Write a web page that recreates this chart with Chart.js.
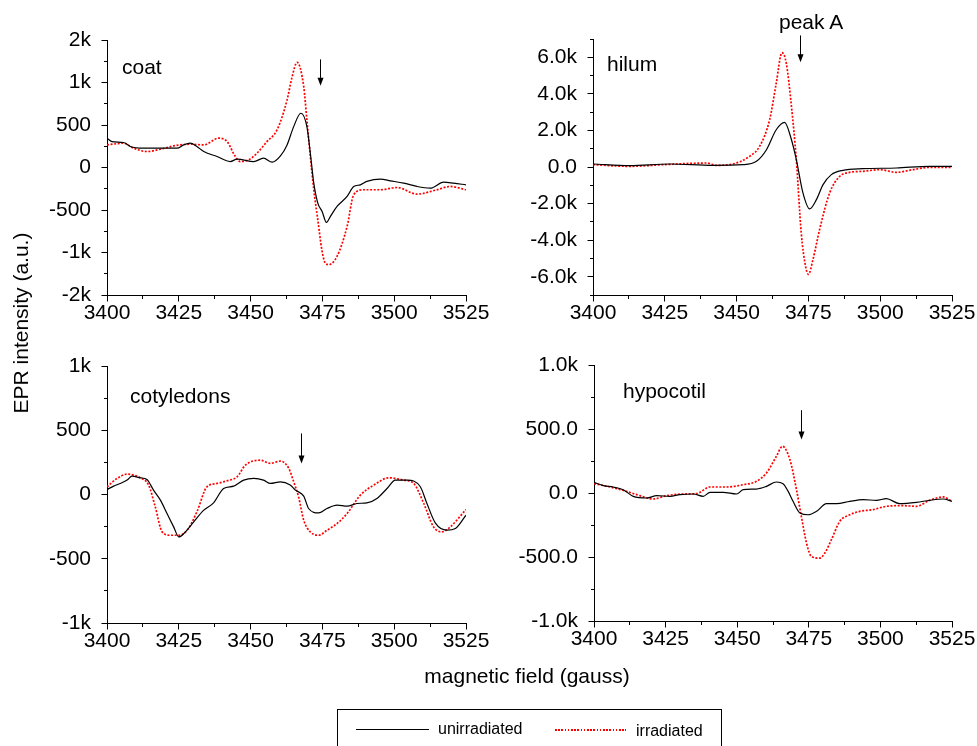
<!DOCTYPE html>
<html><head><meta charset="utf-8">
<script src="https://cdn.jsdelivr.net/npm/chart.js@4.4.1/dist/chart.umd.min.js"></script>
<style>
html,body{margin:0;padding:0;background:#fff;width:977px;height:746px;overflow:hidden;position:relative;font-family:"Liberation Sans",Arial,sans-serif;color:#000;}
canvas{position:absolute;left:0;top:0;}
.lbl{position:absolute;font-size:21px;line-height:24px;white-space:nowrap;}
.ytitle{position:absolute;width:300px;height:24px;font-size:21px;line-height:24px;text-align:center;white-space:nowrap;transform:rotate(-90deg);}
.legend{position:absolute;left:337px;top:709px;width:385px;height:60px;border:1px solid #000;box-sizing:border-box;}
.lg{position:absolute;font-size:16px;line-height:18px;white-space:nowrap;}
</style></head><body>
<canvas id="cCoat" width="977" height="746"></canvas>
<canvas id="cHilum" width="977" height="746"></canvas>
<canvas id="cCoty" width="977" height="746"></canvas>
<canvas id="cHypo" width="977" height="746"></canvas>

<div class="lbl" style="left:122px;top:55px;">coat</div>
<div class="lbl" style="left:607px;top:52px;">hilum</div>
<div class="lbl" style="left:779px;top:10px;">peak A</div>
<div class="lbl" style="left:130px;top:384px;">cotyledons</div>
<div class="lbl" style="left:623px;top:379px;">hypocotil</div>
<div class="ytitle" style="left:-129px;top:311px;">EPR intensity (a.u.)</div>
<div class="lbl" style="left:0;width:1054px;text-align:center;top:664px;">magnetic field (gauss)</div>
<div class="legend"></div>
<div style="position:absolute;left:356px;top:728.5px;width:73px;height:1.3px;background:#000;"></div>
<div class="lg" style="left:438px;top:720px;">unirradiated</div>
<div style="position:absolute;left:555px;top:729px;width:71px;height:1.6px;background:repeating-linear-gradient(90deg,#f00 0 1.6px,transparent 1.6px 3.2px);"></div>
<div class="lg" style="left:636px;top:722px;">irradiated</div>

<script>
// ---------- data ----------
const xTicks = [3400, 3425, 3450, 3475, 3500, 3525];

const coatUnirrX = [3400,3401.7,3405.8,3408.1,3412.8,3417.4,3424.4,3426.7,3429.0,3431.3,3433.7,3438.3,3442.9,3445.3,3451.1,3454.5,3457.5,3460.4,3462.7,3465.0,3467.5,3469.6,3470.8,3472.0,3473.4,3474.9,3476.4,3477.8,3480.1,3483.6,3485.9,3488.2,3490.5,3495.2,3498.7,3503.3,3507.9,3512.6,3517.2,3520.7,3525];
const coatUnirrY = [345,305,294,247,227,227,227,266,286,247,188,129,70,98,70,110,63,137,266,481,638,481,168,-184,-419,-517,-646,-575,-458,-341,-223,-204,-164,-137,-157,-184,-223,-243,-172,-184,-204];
const coatIrrX = [3400,3405.8,3409.3,3413.9,3418.6,3423.2,3429.0,3433.7,3438.9,3441.8,3444.7,3446.4,3449.3,3452.2,3455.7,3459.2,3462.7,3464.4,3466.2,3468.5,3469.6,3470.8,3472.0,3473.4,3474.8,3476.0,3477.2,3480.1,3483.6,3485.9,3489.4,3495.2,3501.0,3507.9,3514.9,3519.5,3525];
const coatIrrY = [266,286,227,188,215,254,274,266,345,305,129,70,90,168,305,442,795,1060,1237,951,560,129,-262,-615,-967,-1124,-1143,-1045,-693,-321,-262,-262,-235,-313,-262,-223,-262];

const hilumUnirrX = [3400,3412.8,3426.7,3441.8,3452.2,3456.9,3460.4,3463.8,3466.7,3469.1,3470.8,3473.1,3475.4,3477.8,3480.1,3483.0,3487.0,3494.0,3505.6,3517.2,3525];
const hilumUnirrY = [164,73,164,91,127,309,945,2036,2436,1491,400,-1418,-2291,-1782,-964,-418,-182,-91,-55,36,36];
const hilumIrrX = [3400,3412.8,3424.4,3439.5,3442.9,3448.7,3454.5,3458.0,3461.5,3463.8,3465.8,3467.3,3469.1,3470.8,3472.5,3474.0,3475.0,3476.6,3478.9,3482.4,3485.9,3489.4,3494.0,3499.8,3505.6,3511.4,3517.2,3525];
const hilumIrrY = [127,36,127,218,91,164,582,1127,2582,4582,6254,5672,3309,400,-3600,-5418,-5872,-5054,-3418,-1418,-509,-291,-236,-145,-291,-145,-18,-18];

const cotyUnirrX = [3400,3402.3,3404.6,3407.0,3408.7,3411.6,3413.9,3416.2,3418.6,3420.9,3423.2,3425.0,3427.3,3430.2,3433.7,3437.1,3440.6,3444.1,3447.6,3451.1,3454.5,3456.9,3460.4,3463.8,3465.6,3468.5,3470.2,3473.7,3476.6,3480.1,3483.6,3487.0,3490.5,3494.0,3497.5,3500.4,3504.5,3509.1,3511.4,3514.3,3518.4,3521.3,3525];
const cotyUnirrY = [39,65,86,112,143,130,117,34,-44,-148,-252,-330,-291,-213,-122,-65,47,65,112,125,112,86,99,73,34,-13,-109,-143,-109,-83,-91,-70,-65,-31,47,112,112,60,-70,-221,-278,-265,-161];
const cotyIrrX = [3400,3403.5,3407.0,3411.6,3414.5,3416.8,3419.2,3422.1,3425.0,3427.9,3431.3,3434.8,3438.3,3441.8,3445.3,3448.2,3453.4,3456.9,3460.4,3463.3,3465.0,3466.7,3468.5,3470.8,3473.7,3476.6,3480.1,3483.6,3488.2,3492.9,3498.1,3503.3,3506.8,3510.3,3513.7,3516.6,3519.5,3525];
const cotyIrrY = [60,125,158,130,73,-96,-291,-317,-317,-278,-135,60,86,107,138,229,267,242,260,203,99,-18,-200,-291,-317,-278,-226,-148,-5,73,130,112,86,-70,-252,-291,-252,-117];

const hypoUnirrX = [3400,3403.3,3406.7,3410.2,3413.7,3418.4,3421.9,3426.5,3430.0,3434.7,3438.1,3440.5,3445.1,3449.8,3452.1,3456.7,3460.2,3463.7,3466.0,3467.8,3469.5,3471.9,3474.8,3477.7,3481.2,3484.7,3489.3,3494.0,3498.6,3502.1,3506.7,3512.6,3517.2,3521.9,3525];
const hypoUnirrY = [83,57,47,26,-26,-39,-21,-26,-13,-8,-26,5,5,-8,26,31,52,86,73,13,-65,-156,-170,-143,-83,-83,-65,-52,-57,-44,-83,-73,-57,-47,-65];
const hypoIrrX = [3400,3405.6,3411.4,3416.0,3420.7,3425.3,3431.2,3435.8,3440.5,3446.3,3452.1,3456.7,3460.2,3463.7,3465.8,3468.4,3470.7,3472.4,3474.2,3475.9,3478.8,3480.6,3482.9,3485.8,3489.3,3492.8,3497.4,3502.1,3507.9,3512.6,3517.2,3521.9,3525];
const hypoIrrY = [73,47,13,-21,-47,-21,-8,-5,47,47,65,91,156,287,365,261,26,-183,-391,-495,-509,-469,-365,-222,-170,-143,-130,-104,-99,-104,-57,-31,-65];

// arrow annotations: [x, yTop, yTip] in data units
const coatArrow = [3474.3, 1272, 962];
const hilumArrow = [3472.3, 7195, 5732];
const cotyArrow = [3467.7, 475, 241];
const hypoArrow = [3472.4, 647, 417];

// ---------- formatters ----------
function fmtK0(v){ if (Math.abs(v) >= 1000) { return (v<0?'-':'') + Math.round(Math.abs(v)/1000) + 'k'; } return String(v); }
function fmtK1(v){ if (v === 0) return '0.0'; return (v/1000).toFixed(1) + 'k'; }
function fmtHypo(v){ if (Math.abs(v) >= 1000) return (v/1000).toFixed(1) + 'k'; return v.toFixed(1); }

const W = 977, H = 746, YW = 90, XH = 40;

const tickPlugin = {
  id: 'customTicks',
  afterDraw(chart) {
    const o = chart.options.plugins.customTicks;
    const ctx = chart.ctx, xs = chart.scales.x, ys = chart.scales.y, ca = chart.chartArea;
    ctx.save();
    ctx.strokeStyle = '#000'; ctx.fillStyle = '#000'; ctx.lineWidth = 1;
    const left = Math.round(ca.left - 0.5) + 0.5;
    const bottom = Math.round(ca.bottom - 0.5) + 0.5;
    ctx.beginPath();
    const n = Math.round((o.yMax - o.yMin) / o.yMinor);
    for (let i = 0; i <= n; i++) {
      const v = o.yMin + i * o.yMinor;
      const r = v / o.yMajor;
      const major = Math.abs(r - Math.round(r)) < 1e-6;
      const len = major ? 6 : 3.5;
      const py = Math.round(ys.getPixelForValue(v) - 0.5) + 0.5;
      ctx.moveTo(left - len, py); ctx.lineTo(left, py);
    }
    const nx = Math.round((3525 - 3400) / 12.5);
    for (let i = 0; i <= nx; i++) {
      const v = 3400 + i * 12.5;
      const len = (i % 2 === 0) ? 6 : 3.5;
      const px = Math.round(xs.getPixelForValue(v) - 0.5) + 0.5;
      ctx.moveTo(px, bottom); ctx.lineTo(px, bottom + len);
    }
    ctx.stroke();
    // arrow
    const a = o.arrow;
    const ax = Math.round(xs.getPixelForValue(a[0]) - 0.5) + 0.5;
    const y1 = ys.getPixelForValue(a[1]);
    const y2 = ys.getPixelForValue(a[2]);
    ctx.beginPath(); ctx.moveTo(ax, y1); ctx.lineTo(ax, y2 - 6); ctx.stroke();
    ctx.beginPath(); ctx.moveTo(ax - 3, y2 - 8); ctx.lineTo(ax + 3, y2 - 8); ctx.lineTo(ax, y2); ctx.closePath(); ctx.fill();
    ctx.restore();
  }
};

function pts(X, Y){ return X.map((x, i) => ({x: x, y: Y[i]})); }

function makePanel(id, area, yMin, yMax, yMajor, yMinor, majorVals, fmt, unX, unY, irX, irY, arrow) {
  new Chart(document.getElementById(id), {
    type: 'line',
    data: {
      datasets: [
        { label: 'unirradiated', data: pts(unX, unY), borderColor: '#000', borderWidth: 1.2, pointRadius: 0, cubicInterpolationMode: 'monotone', fill: false },
        { label: 'irradiated', data: pts(irX, irY), borderColor: '#ff0000', borderWidth: 1.7, borderDash: [2, 1.6], pointRadius: 0, cubicInterpolationMode: 'monotone', fill: false }
      ]
    },
    options: {
      responsive: false, animation: false, devicePixelRatio: 1,
      layout: { autoPadding: false, padding: { left: area.l - YW, top: area.t, right: W - area.r, bottom: H - area.b - XH } },
      plugins: { legend: { display: false }, tooltip: { enabled: false },
        customTicks: { yMin: yMin, yMax: yMax, yMajor: yMajor, yMinor: yMinor, arrow: arrow } },
      scales: {
        x: {
          type: 'linear', min: 3400, max: 3525,
          afterBuildTicks: s => { s.ticks = xTicks.map(v => ({ value: v })); },
          afterFit: s => { s.height = XH; s.paddingLeft = 0; s.paddingRight = 0; },
          grid: { display: false, drawTicks: false },
          border: { display: true, color: '#000', width: 1 },
          ticks: { color: '#000', font: { size: 21, family: '"Liberation Sans", Arial, sans-serif' }, padding: 6, maxRotation: 0, autoSkip: false, callback: v => String(v) }
        },
        y: {
          type: 'linear', min: yMin, max: yMax,
          afterBuildTicks: s => { s.ticks = majorVals.map(v => ({ value: v })); },
          afterFit: s => { s.width = YW; s.paddingTop = 0; s.paddingBottom = 0; },
          grid: { display: false, drawTicks: false },
          border: { display: true, color: '#000', width: 1 },
          ticks: { color: '#000', font: { size: 21, family: '"Liberation Sans", Arial, sans-serif' }, padding: 16, autoSkip: false, callback: v => fmt(v) }
        }
      }
    },
    plugins: [tickPlugin]
  });
}

makePanel('cCoat', {l:107, r:466, t:40, b:295}, -1500, 1500, 500, 250, [-1500,-1000,-500,0,500,1000,1500], fmtK0, coatUnirrX, coatUnirrY, coatIrrX, coatIrrY, coatArrow);
makePanel('cHilum', {l:593, r:952, t:39, b:295}, -7000, 7000, 2000, 1000, [-6000,-4000,-2000,0,2000,4000,6000], fmtK1, hilumUnirrX, hilumUnirrY, hilumIrrX, hilumIrrY, hilumArrow);
makePanel('cCoty', {l:107, r:466, t:366, b:623}, -1000, 1000, 500, 250, [-1000,-500,0,500,1000], fmtK0, cotyUnirrX, cotyUnirrY, cotyIrrX, cotyIrrY, cotyArrow);
makePanel('cHypo', {l:594, r:952, t:365, b:621}, -1000, 1000, 500, 250, [-1000,-500,0,500,1000], fmtHypo, hypoUnirrX, hypoUnirrY, hypoIrrX, hypoIrrY, hypoArrow);
</script>
</body></html>
